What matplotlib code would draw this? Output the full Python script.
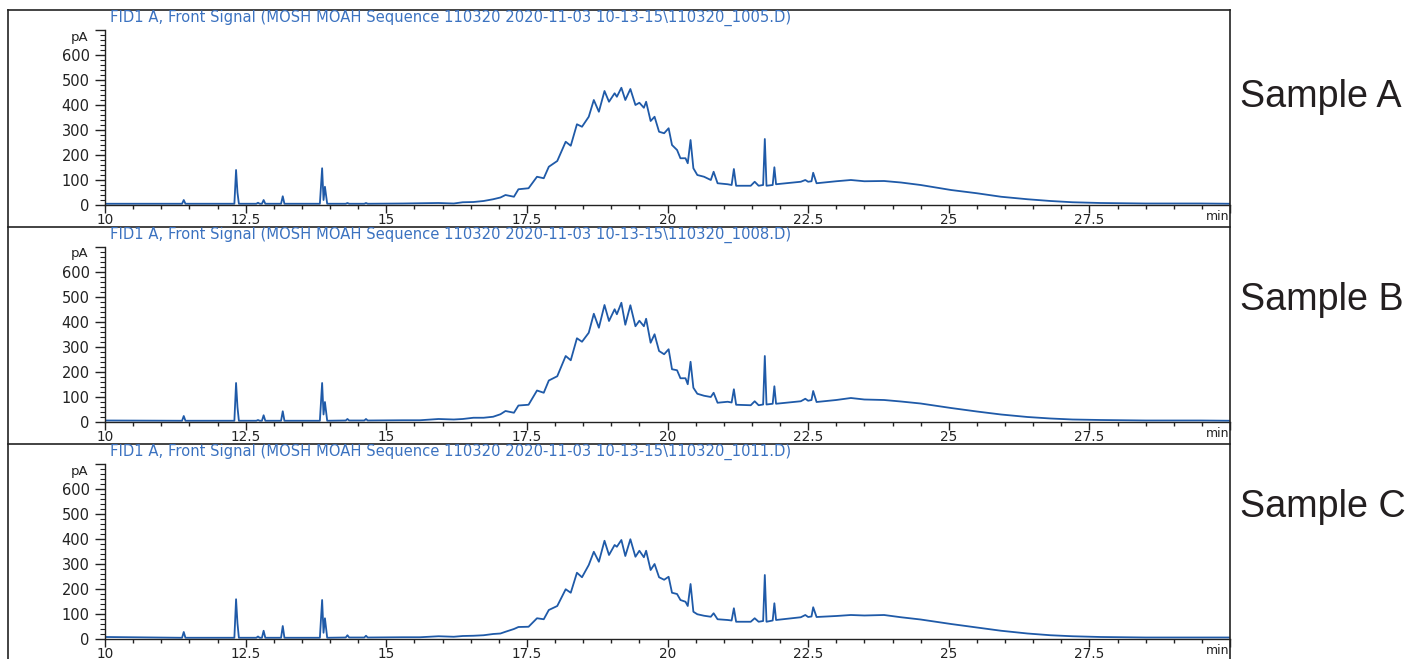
import matplotlib
matplotlib.use("Agg")
import matplotlib.pyplot as plt
from matplotlib.lines import Line2D
from matplotlib.ticker import MultipleLocator, FixedLocator, FixedFormatter

# retention time grid (min), shared by all three runs
rt = [10.0, 11.33, 11.37, 11.40, 11.43, 12.30, 12.33, 12.355, 12.38,
      12.69, 12.72, 12.75, 12.79, 12.82, 12.85, 13.13, 13.16, 13.19,
      13.82, 13.86, 13.885, 13.91, 13.95, 14.28, 14.31, 14.34,
      14.61, 14.64, 14.67, 15.3, 15.6, 15.93, 16.2, 16.36, 16.55, 16.73,
      16.9, 17.03, 17.12, 17.27, 17.35, 17.53, 17.68, 17.80, 17.89, 18.04,
      18.19, 18.28, 18.39, 18.48, 18.60, 18.69, 18.78, 18.88, 18.96, 19.06,
      19.10, 19.18, 19.25, 19.34, 19.43, 19.50, 19.58, 19.62, 19.70, 19.77,
      19.85, 19.94, 20.02, 20.08, 20.17, 20.23, 20.32, 20.36, 20.41, 20.46,
      20.53, 20.65, 20.77, 20.82, 20.89, 21.07, 21.14, 21.18, 21.22, 21.48,
      21.55, 21.62, 21.70, 21.73, 21.76, 21.87, 21.90, 21.93, 22.37, 22.45,
      22.50, 22.56, 22.59, 22.65, 23.0, 23.26, 23.5, 23.85, 24.15, 24.5,
      25.04, 25.5, 25.93, 26.4, 26.81, 27.2, 27.7, 28.5, 29.48, 30.0]

# FID signal (pA)
sig_a = [5, 5, 5, 20, 5, 5, 140, 50, 5,
         5, 9, 5, 5, 20, 5, 5, 35, 5,
         5, 147, 20, 73, 5, 5, 8, 5,
         5, 8, 5, 6, 7, 8, 6, 11, 12, 16,
         23, 30, 40, 33, 63, 67, 113, 107, 153, 176,
         253, 237, 323, 313, 353, 420, 373, 456, 413, 447,
         433, 469, 420, 464, 400, 409, 389, 413, 336, 353,
         293, 287, 307, 240, 220, 187, 187, 167, 260, 147,
         120, 113, 100, 133, 87, 83, 80, 144, 77, 77,
         93, 77, 80, 264, 77, 80, 151, 83, 93, 100,
         93, 95, 129, 87, 95, 100, 95, 96, 90, 80,
         60, 47, 33, 23, 16, 11, 8, 6, 6, 5]

sig_b = [6, 5, 5, 24, 5, 5, 156, 60, 5,
         5, 8, 5, 5, 27, 5, 5, 43, 5,
         5, 156, 30, 80, 5, 6, 12, 6,
         6, 12, 6, 7, 7, 12, 10, 12, 17, 17,
         21, 31, 44, 37, 66, 69, 126, 117, 166, 183,
         264, 247, 335, 321, 357, 433, 377, 468, 404, 451,
         431, 477, 389, 467, 383, 405, 383, 413, 317, 351,
         284, 271, 291, 211, 207, 175, 175, 151, 241, 137,
         113, 105, 100, 117, 77, 81, 78, 131, 69, 67,
         83, 67, 70, 264, 70, 73, 143, 73, 83, 93,
         85, 88, 124, 80, 88, 96, 90, 88, 82, 74,
         56, 42, 30, 20, 14, 10, 8, 6, 6, 5]

sig_c = [8, 5, 5, 28, 5, 5, 159, 63, 5,
         5, 10, 5, 5, 33, 5, 5, 52, 5,
         5, 156, 25, 83, 5, 6, 15, 6,
         6, 13, 6, 7, 7, 11, 9, 12, 13, 15,
         20, 22, 29, 40, 48, 49, 83, 79, 116, 132,
         199, 185, 265, 247, 296, 349, 309, 393, 336, 376,
         369, 396, 332, 399, 329, 353, 327, 353, 276, 300,
         247, 237, 249, 185, 180, 156, 149, 132, 220, 109,
         99, 93, 89, 103, 79, 76, 74, 123, 69, 69,
         83, 69, 72, 256, 69, 74, 143, 76, 87, 96,
         88, 90, 127, 88, 92, 96, 94, 96, 87, 78,
         60, 46, 33, 22, 15, 11, 8, 6, 6, 6]

runs = [
    ("110320_1005.D", "Sample A", sig_a),
    ("110320_1008.D", "Sample B", sig_b),
    ("110320_1011.D", "Sample C", sig_c),
]

x_ticks = [10, 12.5, 15, 17.5, 20, 22.5, 25, 27.5, 30]
x_labels = ["10", "12.5", "15", "17.5", "20", "22.5", "25", "27.5", ""]
y_ticks = [0, 100, 200, 300, 400, 500, 600, 700]
y_labels = ["0", "100", "200", "300", "400", "500", "600", ""]

W, H = 1406, 659
TRACE = "#1f5aa8"
TITLE = "#3b72c0"


def fx(px):
    return px / W


def fy(py):
    return 1 - py / H


fig = plt.figure(figsize=(W / 100, H / 100), dpi=100)

# outer frame and panel separators
fig.add_artist(Line2D([fx(8), fx(8)], [fy(10), fy(659)], color="#222", lw=1.2))
fig.add_artist(Line2D([fx(1230), fx(1230)], [fy(10), fy(659)], color="#222", lw=1.2))
for i in range(3):
    y_line = 10 + 217 * i
    fig.add_artist(Line2D([fx(8), fx(1230)], [fy(y_line), fy(y_line)], color="#222", lw=1.2))

for i, (fname, label, sig) in enumerate(runs):
    top = 10 + 217 * i
    zero = 205 + 217 * i
    ax = fig.add_axes([fx(105), fy(zero), fx(1230) - fx(105), 175 / H])
    ax.patch.set_alpha(0)
    ax.plot(rt, sig, color=TRACE, lw=1.3)
    ax.set_xlim(10, 30)
    ax.set_ylim(0, 700)
    ax.spines[["top", "right"]].set_visible(False)
    for s in ("left", "bottom"):
        ax.spines[s].set_color("#222")
        ax.spines[s].set_linewidth(1.0)

    ax.xaxis.set_major_locator(FixedLocator(x_ticks))
    ax.xaxis.set_major_formatter(FixedFormatter(x_labels))
    ax.xaxis.set_minor_locator(MultipleLocator(0.5))
    ax.yaxis.set_major_locator(FixedLocator(y_ticks))
    ax.yaxis.set_major_formatter(FixedFormatter(y_labels))
    ax.yaxis.set_minor_locator(MultipleLocator(20))
    ax.tick_params(axis="x", which="major", length=6, width=1, pad=0.0,
                   labelsize=9.8, colors="#222")
    ax.tick_params(axis="x", which="minor", length=3, width=1, colors="#222")
    ax.tick_params(axis="y", which="major", length=7, width=1, pad=4,
                   labelsize=10.5, colors="#222")
    ax.tick_params(axis="y", which="minor", length=3.5, width=0.8, colors="#222")

    ax.text(-0.0145, 672, "pA", transform=ax.get_yaxis_transform(),
            ha="right", va="center", fontsize=9.5, color="#222")
    ax.text(0.9995, -0.063, "min", transform=ax.transAxes,
            ha="right", va="center", fontsize=9, color="#222")

    fig.text(fx(110), fy(top + 8), "FID1 A, Front Signal (MOSH MOAH Sequence 110320 "
             "2020-11-03 10-13-15\\" + fname + ")",
             ha="left", va="center", fontsize=10.6, color=TITLE)

    fig.text(fx(1240), fy([97, 300, 507][i]), label, ha="left", va="center",
             fontsize=27.2, family="Liberation Sans", color="#231f20")

fig.savefig("out.png", dpi=100)
